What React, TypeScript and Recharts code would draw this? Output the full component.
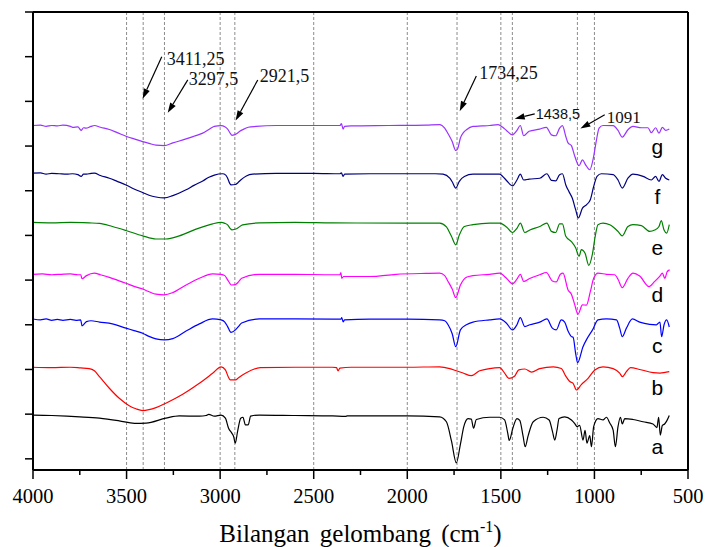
import { LineChart, Line, XAxis, YAxis, ReferenceLine, ReferenceDot } from 'recharts';

// FTIR spectra: [wavenumber (cm-1), stacked transmittance]
const sampleG: [number, number][] = [
  [4000, 7.46], [3960, 7.47], [3930, 7.44], [3900, 7.46], [3870, 7.45], [3840, 7.47], [3800, 7.44], [3788, 7.42],
  [3760, 7.43], [3743, 7.35], [3730, 7.41], [3717, 7.4], [3690, 7.44], [3672, 7.46], [3640, 7.42], [3592, 7.37],
  [3550, 7.3], [3503, 7.22], [3460, 7.16], [3414, 7.1], [3380, 7.06], [3343, 7.02], [3298, 7.01], [3253, 7.07],
  [3182, 7.16], [3140, 7.22], [3093, 7.29], [3060, 7.37], [3031, 7.44], [2995, 7.455], [2975, 7.43], [2960, 7.38],
  [2945, 7.28], [2937, 7.24], [2925, 7.25], [2912, 7.275], [2895, 7.33], [2880, 7.365], [2850, 7.42], [2808, 7.44],
  [2700, 7.46], [2500, 7.46], [2360, 7.46], [2352, 7.5], [2343, 7.38], [2335, 7.44], [2300, 7.45], [2100, 7.46],
  [1900, 7.47], [1827, 7.48], [1800, 7.4], [1782, 7.275], [1760, 7.1], [1741, 6.9], [1730, 6.95], [1716, 7.18],
  [1700, 7.3], [1684, 7.365], [1649, 7.44], [1600, 7.45], [1560, 7.46], [1515, 7.48], [1490, 7.42], [1470, 7.35],
  [1438, 7.25], [1414, 7.35], [1396, 7.46], [1378, 7.23], [1349, 7.33], [1292, 7.38], [1257, 7.42], [1230, 7.25],
  [1207, 7.23], [1186, 7.4], [1171, 7.455], [1153, 7.215], [1141, 7.07], [1123, 7.01], [1105, 6.77], [1082, 6.56],
  [1064, 6.69], [1047, 6.58], [1025, 6.47], [1004, 6.77], [989, 7.14], [975, 7.4], [954, 7.46], [900, 7.455],
  [874, 7.35], [851, 7.2], [821, 7.365], [794, 7.44], [749, 7.41], [714, 7.41], [696, 7.3], [673, 7.41],
  [655, 7.29], [637, 7.42], [619, 7.35], [600, 7.38],
];

const sampleF: [number, number][] = [
  [4000, 6.395], [3960, 6.4], [3930, 6.37], [3900, 6.39], [3860, 6.38], [3820, 6.37], [3790, 6.38], [3760, 6.36],
  [3743, 6.32], [3730, 6.37], [3714, 6.37], [3690, 6.39], [3672, 6.395], [3640, 6.34], [3592, 6.28], [3550, 6.21],
  [3503, 6.13], [3460, 6.04], [3414, 5.96], [3380, 5.9], [3343, 5.86], [3298, 5.84], [3253, 5.89], [3182, 6.02],
  [3140, 6.12], [3093, 6.22], [3060, 6.3], [3031, 6.35], [2987, 6.38], [2970, 6.35], [2960, 6.28], [2948, 6.16],
  [2942, 6.13], [2918, 6.14], [2905, 6.18], [2890, 6.24], [2860, 6.33], [2826, 6.37], [2700, 6.39], [2500, 6.39],
  [2360, 6.38], [2352, 6.4], [2343, 6.32], [2335, 6.37], [2200, 6.38], [2000, 6.38], [1850, 6.38], [1809, 6.37],
  [1773, 6.28], [1760, 6.2], [1741, 6.06], [1722, 6.21], [1695, 6.32], [1649, 6.37], [1507, 6.37], [1490, 6.32],
  [1470, 6.23], [1438, 6.11], [1414, 6.24], [1396, 6.37], [1378, 6.24], [1349, 6.26], [1292, 6.28], [1254, 6.38],
  [1230, 6.23], [1207, 6.22], [1186, 6.36], [1171, 6.38], [1153, 6.13], [1136, 5.98], [1118, 5.83], [1100, 5.57],
  [1086, 5.39], [1064, 5.61], [1043, 5.685], [1022, 5.8], [1004, 6.095], [986, 6.32], [963, 6.38], [900, 6.36],
  [874, 6.24], [851, 6.06], [821, 6.28], [794, 6.37], [740, 6.32], [696, 6.24], [673, 6.32], [655, 6.21],
  [637, 6.36], [619, 6.28], [600, 6.24],
];

const sampleE: [number, number][] = [
  [4000, 5.29], [3900, 5.28], [3800, 5.29], [3700, 5.28], [3645, 5.27], [3576, 5.2], [3503, 5.11], [3414, 4.99],
  [3343, 4.92], [3290, 4.92], [3218, 4.99], [3129, 5.14], [3040, 5.26], [2995, 5.29], [2975, 5.27], [2960, 5.235],
  [2945, 5.15], [2937, 5.125], [2912, 5.15], [2880, 5.235], [2790, 5.28], [2600, 5.29], [2400, 5.28], [2000, 5.275],
  [1827, 5.275], [1791, 5.19], [1764, 4.98], [1741, 4.79], [1722, 5.01], [1695, 5.2], [1649, 5.24], [1560, 5.275],
  [1507, 5.275], [1470, 5.19], [1438, 5.065], [1414, 5.16], [1396, 5.275], [1372, 5.065], [1345, 5.12], [1292, 5.2],
  [1254, 5.275], [1230, 5.09], [1207, 5.065], [1186, 5.26], [1171, 5.26], [1153, 4.98], [1123, 4.86], [1100, 4.72],
  [1082, 4.53], [1070, 4.68], [1050, 4.6], [1030, 4.33], [1010, 4.6], [995, 5.0], [981, 5.24], [954, 5.275],
  [918, 5.24], [900, 5.19], [874, 5.09], [851, 4.99], [821, 5.2], [794, 5.24], [749, 5.22], [705, 5.09],
  [678, 5.12], [655, 5.2], [643, 5.33], [628, 5.12], [614, 5.05], [600, 5.24],
];

const sampleD: [number, number][] = [
  [4000, 4.13], [3950, 4.14], [3900, 4.12], [3850, 4.13], [3800, 4.14], [3760, 4.12], [3745, 4.12], [3738, 4.03],
  [3714, 4.1], [3672, 4.155], [3640, 4.12], [3592, 4.06], [3550, 4.0], [3503, 3.93], [3460, 3.86], [3414, 3.8],
  [3380, 3.74], [3343, 3.685], [3298, 3.67], [3253, 3.72], [3182, 3.89], [3111, 4.04], [3040, 4.14], [2995, 4.13],
  [2975, 4.1], [2960, 4.005], [2939, 3.89], [2918, 3.9], [2900, 3.97], [2885, 4.04], [2790, 4.13], [2600, 4.13],
  [2400, 4.12], [2360, 4.12], [2355, 4.17], [2350, 4.04], [2340, 4.08], [2200, 4.08], [2060, 4.13], [1900, 4.15],
  [1827, 4.155], [1800, 4.1], [1782, 3.97], [1760, 3.8], [1741, 3.61], [1716, 3.89], [1684, 4.065], [1649, 4.1],
  [1560, 4.13], [1507, 4.155], [1470, 4.04], [1438, 3.915], [1414, 4.02], [1396, 4.13], [1378, 3.97], [1349, 4.03],
  [1292, 4.12], [1257, 4.17], [1225, 3.98], [1204, 3.96], [1182, 4.13], [1168, 4.155], [1141, 3.78], [1123, 3.685],
  [1105, 3.445], [1088, 3.235], [1064, 3.445], [1043, 3.44], [1022, 3.74], [1004, 4.04], [981, 4.155], [936, 4.13],
  [891, 4.12], [874, 4.02], [851, 3.83], [821, 4.04], [794, 4.155], [758, 4.09], [708, 3.855], [678, 3.97],
  [650, 4.09], [637, 4.155], [624, 4.04], [611, 4.19], [598, 4.23],
];

const sampleC: [number, number][] = [
  [4000, 3.13], [3960, 3.11], [3930, 3.13], [3900, 3.1], [3870, 3.12], [3840, 3.1], [3800, 3.12], [3770, 3.1],
  [3745, 3.11], [3738, 2.975], [3714, 3.07], [3690, 3.09], [3645, 3.06], [3576, 3.02], [3503, 2.925], [3460, 2.87],
  [3414, 2.81], [3380, 2.74], [3343, 2.685], [3298, 2.66], [3253, 2.69], [3182, 2.86], [3111, 3.02], [3040, 3.13],
  [2995, 3.11], [2975, 3.06], [2960, 2.96], [2942, 2.83], [2918, 2.885], [2900, 2.97], [2885, 3.04], [2790, 3.13],
  [2600, 3.13], [2400, 3.125], [2355, 3.125], [2350, 3.16], [2343, 3.065], [2335, 3.11], [2200, 3.125], [2000, 3.125],
  [1827, 3.11], [1800, 3.09], [1782, 3.0], [1760, 2.8], [1741, 2.51], [1716, 2.885], [1684, 3.0], [1649, 3.06],
  [1560, 3.11], [1507, 3.13], [1470, 3.035], [1438, 2.885], [1414, 3.0], [1396, 3.16], [1372, 2.96], [1345, 3.0],
  [1292, 3.06], [1254, 3.13], [1225, 2.925], [1204, 2.885], [1177, 3.11], [1159, 3.06], [1141, 2.86], [1123, 2.735],
  [1114, 2.72], [1100, 2.35], [1090, 2.15], [1061, 2.51], [1040, 2.685], [1010, 2.885], [981, 3.11], [936, 3.13],
  [882, 3.11], [865, 2.925], [851, 2.735], [829, 2.925], [797, 3.13], [758, 3.06], [705, 3.01], [669, 3.0],
  [650, 3.06], [641, 2.735], [628, 3.0], [614, 3.11], [600, 2.95],
];

const sampleB: [number, number][] = [
  [4000, 2.05], [3900, 2.04], [3800, 2.05], [3745, 2.035], [3700, 2.02], [3672, 1.97], [3645, 1.84], [3592, 1.58],
  [3539, 1.355], [3486, 1.19], [3450, 1.12], [3414, 1.08], [3380, 1.1], [3343, 1.145], [3290, 1.245], [3200, 1.445],
  [3111, 1.69], [3040, 1.915], [2995, 2.06], [2972, 1.99], [2955, 1.82], [2946, 1.765], [2918, 1.765], [2900, 1.82],
  [2865, 1.915], [2785, 2.04], [2600, 2.05], [2400, 2.05], [2378, 2.04], [2370, 1.97], [2360, 2.03], [2300, 2.05],
  [2000, 2.05], [1827, 2.06], [1773, 2.02], [1738, 1.97], [1702, 1.92], [1658, 1.86], [1613, 1.97], [1560, 2.02],
  [1507, 2.04], [1480, 1.92], [1457, 1.8], [1427, 1.85], [1404, 1.99], [1372, 2.01], [1336, 1.94], [1292, 2.02],
  [1220, 2.06], [1177, 2.02], [1153, 1.85], [1132, 1.73], [1114, 1.69], [1096, 1.54], [1070, 1.66], [1034, 1.8],
  [998, 1.99], [954, 2.06], [900, 2.02], [865, 1.92], [851, 1.84], [829, 1.95], [807, 2.04], [758, 2.0],
  [687, 1.93], [650, 1.92], [600, 1.95],
];

const sampleA: [number, number][] = [
  [4000, 0.98], [3900, 0.97], [3820, 0.955], [3750, 0.94], [3645, 0.91], [3539, 0.85], [3458, 0.795], [3396, 0.8],
  [3290, 0.91], [3218, 0.96], [3111, 0.955], [3075, 0.97], [3061, 0.995], [3031, 0.955], [2995, 0.98], [2972, 0.91],
  [2955, 0.685], [2937, 0.57], [2928, 0.5], [2919, 0.35], [2907, 0.61], [2890, 0.91], [2878, 0.93], [2865, 0.76],
  [2850, 0.76], [2837, 0.955], [2790, 0.98], [2600, 0.97], [2400, 0.96], [2330, 0.95], [2320, 0.96], [2000, 0.96],
  [1827, 0.94], [1791, 0.83], [1764, 0.4], [1738, -0.09], [1716, 0.33], [1698, 0.72], [1675, 0.9], [1658, 0.89],
  [1646, 0.685], [1631, 0.88], [1560, 0.93], [1507, 0.93], [1480, 0.87], [1463, 0.57], [1455, 0.41], [1436, 0.685],
  [1414, 0.9], [1399, 0.86], [1381, 0.5], [1370, 0.27], [1354, 0.52], [1327, 0.83], [1274, 0.93], [1242, 0.87],
  [1224, 0.61], [1212, 0.42], [1200, 0.64], [1189, 0.9], [1159, 0.94], [1123, 0.87], [1105, 0.79], [1093, 0.72],
  [1079, 0.75], [1061, 0.42], [1050, 0.64], [1040, 0.35], [1025, 0.52], [1016, 0.27], [1004, 0.72], [981, 0.9],
  [954, 0.87], [936, 0.93], [918, 0.8], [900, 0.64], [888, 0.27], [874, 0.72], [861, 0.93], [851, 0.78],
  [838, 0.9], [794, 0.88], [740, 0.83], [687, 0.78], [666, 0.7], [657, 0.93], [648, 0.53], [637, 0.75],
  [625, 0.78], [612, 0.86], [600, 0.97],
];

const sampleNames = ['g', 'f', 'e', 'd', 'c', 'b', 'a'];
const sampleLabelY = [6.83, 5.71, 4.57, 3.52, 2.36, 1.43, 0.1];
const labelX = 664;

const markerLines = [3500, 3411.25, 3297.5, 3000, 2921.5, 2500, 2000, 1734.25, 1500, 1438.5, 1091, 1000];

const xTicks = [4000, 3750, 3500, 3250, 3000, 2750, 2500, 2250, 2000, 1750, 1500, 1250, 1000, 750, 500];
const yTicks = [0, 1, 2, 3, 4, 5, 6, 7, 8, 9, 10];

// arrows: tail -> head in data coords
const peakLabels = [
  { text: '3411,25', tail: [3312, 9.0], head: [3414, 8.06], dx: 5, dy: 8, sans: false, size: 18 },
  { text: '3297,5', tail: [3173, 8.48], head: [3280, 7.745], dx: 1, dy: 5, sans: false, size: 18 },
  { text: '2921,5', tail: [2799, 8.48], head: [2917, 7.57], dx: 2, dy: 2, sans: false, size: 18 },
  { text: '1734,25', tail: [1631, 8.57], head: [1720, 7.78], dx: 3, dy: 3, sans: false, size: 18 },
  { text: '1438,5', tail: [1319, 7.72], head: [1426, 7.61], dx: 1, dy: 5, sans: true, size: 14.5 },
  { text: '1091', tail: [945, 7.7], head: [1075, 7.39], dx: 2, dy: 8, sans: false, size: 17 },
];

const COLORS = ['#9933ff', '#000080', '#008000', '#ff00ff', '#0000ff', '#ff0000', '#000000'];
const SERIF = "'Liberation Serif', 'DejaVu Serif', serif";
const SANS = "'Liberation Sans', Arial, sans-serif";

const series = [sampleG, sampleF, sampleE, sampleD, sampleC, sampleB, sampleA].map((pairs, i) => ({
  name: sampleNames[i],
  color: COLORS[i],
  data: pairs.map(([x, y]) => ({ x, y })),
}));

const XTick = ({ x, y, payload }: any) => {
  const major = payload.value % 500 === 0;
  return (
    <g>
      <line x1={x} x2={x} y1={y} y2={y + (major ? 9 : 5)} stroke="#000" strokeWidth={1.5} />
      {major && (
        <text x={x} y={y + 33} textAnchor="middle" style={{ fontFamily: SERIF, fontSize: 20.5 }} fill="#000">
          {payload.value}
        </text>
      )}
    </g>
  );
};

const YTick = ({ x, y }: any) => <line x1={x} x2={x - 8} y1={y} y2={y} stroke="#000" strokeWidth={1.5} />;

const AxisTitle = ({ viewBox }: any) => (
  <text
    x={viewBox.x + viewBox.width / 2}
    y={viewBox.y + 72}
    textAnchor="middle"
    style={{ fontFamily: SERIF, fontSize: 25, wordSpacing: 4 }}
    fill="#000"
  >
    Bilangan gelombang (cm
    <tspan dy={-10} style={{ fontSize: 16 }}>-1</tspan>
    <tspan dy={10}>)</tspan>
  </text>
);

const makeArrow = (p: (typeof peakLabels)[number]) => (props: any) => {
  const { x1, y1, x2, y2 } = props;
  const ang = Math.atan2(y2 - y1, x2 - x1);
  const len = 10;
  const half = 3.2;
  const bx = x2 - len * Math.cos(ang);
  const by = y2 - len * Math.sin(ang);
  const pts = [
    [x2, y2],
    [bx + half * Math.sin(ang), by - half * Math.cos(ang)],
    [bx - half * Math.sin(ang), by + half * Math.cos(ang)],
  ]
    .map((q) => q.join(','))
    .join(' ');
  return (
    <g>
      <line x1={x1} y1={y1} x2={bx} y2={by} stroke="#000" strokeWidth={1.2} />
      <polygon points={pts} fill="#000" />
      <text
        x={x1 + p.dx}
        y={y1 + p.dy}
        style={{ fontFamily: p.sans ? SANS : SERIF, fontSize: p.size }}
        fill="#111"
      >
        {p.text}
      </text>
    </g>
  );
};

const App = () => {
  return (
    <div style={{ position: 'absolute', left: 0, top: 0, background: '#fff' }}>
      <LineChart width={706} height={547} margin={{ top: 12, right: 18, bottom: 37, left: 23 }}>
        <XAxis
          type="number"
          dataKey="x"
          domain={[500, 4000]}
          reversed
          ticks={xTicks}
          interval={0}
          allowDataOverflow
          height={40}
          tickSize={0}
          tickMargin={0}
          tickLine={false}
          tick={<XTick />}
          axisLine={{ stroke: '#000', strokeWidth: 2 }}
          label={<AxisTitle />}
        />
        <YAxis
          type="number"
          domain={[-0.25, 10]}
          ticks={yTicks}
          interval={0}
          allowDataOverflow
          width={10}
          tickSize={0}
          tickMargin={0}
          tickLine={false}
          tick={<YTick />}
          axisLine={{ stroke: '#000', strokeWidth: 2 }}
        />
        {markerLines.map((v) => (
          <ReferenceLine key={v} x={v} stroke="#8c8c8c" strokeWidth={1} strokeDasharray="3 2" />
        ))}
        {series.map((s) => (
          <Line
            key={s.name}
            data={s.data}
            dataKey="y"
            name={s.name}
            type="monotone"
            stroke={s.color}
            strokeWidth={1.2}
            dot={false}
            activeDot={false}
            isAnimationActive={false}
          />
        ))}
        <ReferenceLine y={10} stroke="#000" strokeWidth={2} />
        <ReferenceLine x={500} stroke="#000" strokeWidth={2} />
        {peakLabels.map((p) => (
          <ReferenceLine
            key={p.text}
            segment={[
              { x: p.tail[0], y: p.tail[1] },
              { x: p.head[0], y: p.head[1] },
            ]}
            shape={makeArrow(p)}
          />
        ))}
        {series.map((s, i) => (
          <ReferenceDot
            key={`lbl-${s.name}`}
            x={labelX}
            y={sampleLabelY[i]}
            r={0}
            shape={(props: any) => (
              <text
                x={props.cx}
                y={props.cy}
                textAnchor="middle"
                style={{ fontFamily: SANS, fontSize: 21 }}
                fill="#000"
              >
                {s.name}
              </text>
            )}
          />
        ))}
      </LineChart>
    </div>
  );
};

export default App;
